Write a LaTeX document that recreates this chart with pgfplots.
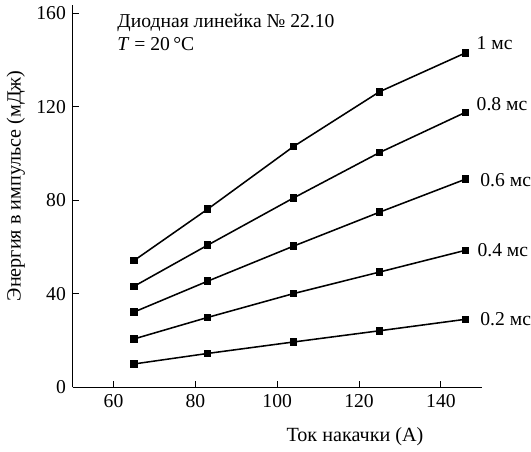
\documentclass[border=0pt]{standalone}
\usepackage{pgfplots}
\pgfplotsset{compat=1.18}
\usepackage{fontspec}
\setmainfont{Liberation Serif}
\begin{document}
\fontsize{19}{23}\selectfont
\begin{tikzpicture}
\begin{axis}[
  scale only axis, width=396pt, height=370pt,
  xmin=50, xmax=150, ymin=0, ymax=163.5,
  axis lines=left, axis line style={-, line width=1.4pt},
  tick align=inside, major tick length=6pt,
  tick style={line width=1.1pt, black},
  xtick={60,80,100,120,140}, ytick={0,40,80,120,160},
  /pgf/number format/assume math mode=true,
  tick label style={font=\fontsize{19}{23}\selectfont},
  label style={font=\fontsize{19.5}{23}\selectfont},
  xlabel={Ток накачки (А)}, ylabel={Энергия в импульсе (мДж)},
  xlabel style={at={(axis description cs:0.69,-0.128)}, anchor=center},
  ylabel style={at={(axis description cs:-0.139,0.527)}, anchor=center},
  clip=false,
  ser/.style={black, line width=1.5pt, mark=square*, mark size=2.9pt, mark options={solid}},
]
\addplot[ser] coordinates {(65,54.2) (83,76.2) (104,103) (125,126.4) (146,143)};
\addplot[ser] coordinates {(65,43.2) (83,60.8) (104,81) (125,100.4) (146,117.6)};
\addplot[ser] coordinates {(65,32.2) (83,45.4) (104,60.4) (125,74.9) (146,89)};
\addplot[ser] coordinates {(65,20.7) (83,29.9) (104,40.1) (125,49.3) (146,58.6)};
\addplot[ser] coordinates {(65,10) (83,14.5) (104,19.4) (125,24.2) (146,29.1)};
\node[anchor=west, inner sep=0pt] at (axis cs:148.7,147) {1 мс};
\node[anchor=west, inner sep=0pt] at (axis cs:148.7,121) {0.8 мс};
\node[anchor=west, inner sep=0pt] at (axis cs:149.6,88.5) {0.6 мс};
\node[anchor=west, inner sep=0pt] at (axis cs:148.9,58.5) {0.4 мс};
\node[anchor=west, inner sep=0pt] at (axis cs:149.6,29) {0.2 мс};
\node[anchor=base west, inner sep=0pt] at (axis cs:60.9,154) {Диодная линейка № 22.10};
\node[anchor=base west, inner sep=0pt] at (axis cs:60.9,144) {\textit{T} = 20\,°C};
\end{axis}
\end{tikzpicture}
\end{document}
